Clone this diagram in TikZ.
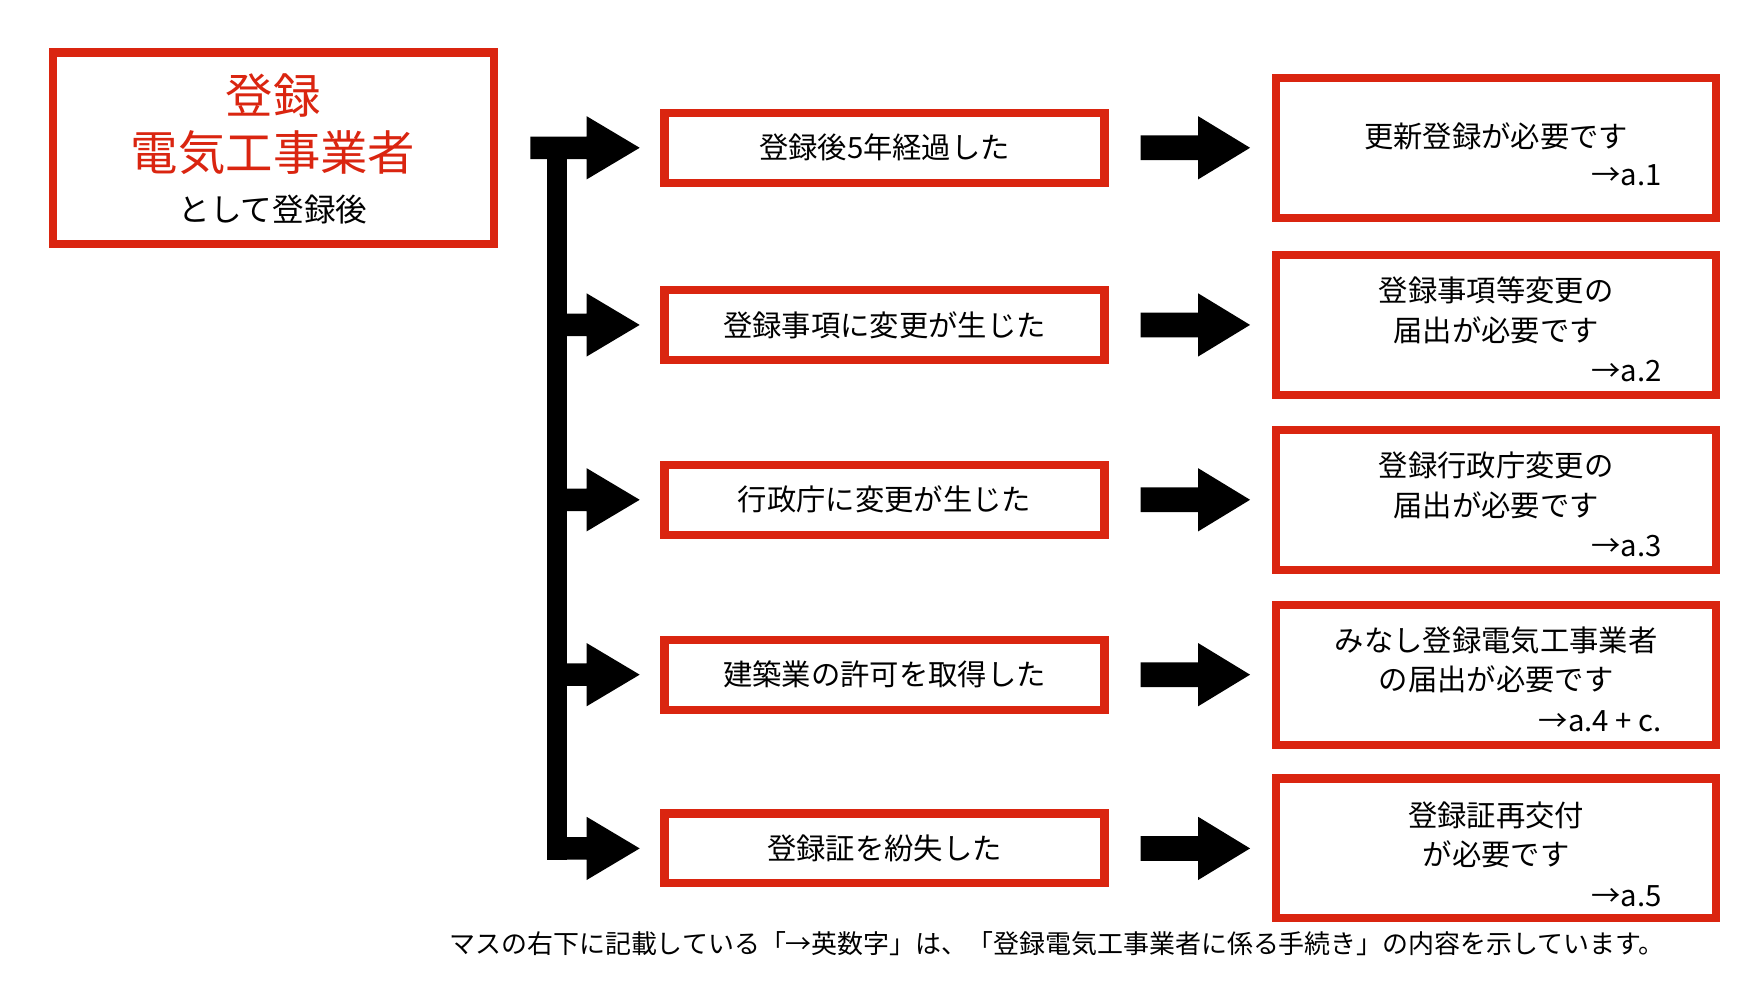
\documentclass[tikz,border=0pt]{standalone}
\usepackage{fontspec}
\setmainfont{Noto Sans CJK JP}
\definecolor{rd}{HTML}{DA2510}
\newcommand{\fatarr}[5]{% x0 x1 x2 y shafthalf
  \fill (#1,#4-#5) -- (#2,#4-#5) -- (#2,#4-28) -- (#3,#4) -- (#2,#4+28) -- (#2,#4+#5) -- (#1,#4+#5) -- cycle;}
\begin{document}
\begin{tikzpicture}[x=0.5pt,y=-0.5pt,
  rbox/.style={draw=rd,line width=3.6pt,fill=white,inner sep=0pt},
  mtxt/.style={font=\fontsize{13}{16}\selectfont},
  rtxt/.style={font=\fontsize{13}{17.5}\selectfont,align=center}]
\useasboundingbox (0,0) rectangle (1560,888);
% top-left box
\node[rbox,minimum width=391pt*0.5,minimum height=170pt*0.5] (start) at (242.5,131.5) {};
\node[text=rd,font=\fontsize{21}{25}\selectfont] (t1) at (242,85) {登録};
\node[text=rd,font=\fontsize{21}{25}\selectfont] (t2) at (242,135) {電気工事業者};
\node[font=\fontsize{14}{16}\selectfont] (t3) at (242,186) {として登録後};
% bar
\fill (485,131) rectangle (503,762);
\fatarr{470}{520}{567}{131}{10}
\foreach \y in {288,443,598}{\fatarr{500}{520}{567}{\y}{10}}
\fatarr{485}{520}{567}{752}{10}
% middle boxes
\foreach \y/\t/\n in {131/登録後5年経過した/m1,288/登録事項に変更が生じた/m2,443/行政庁に変更が生じた/m3,598/建築業の許可を取得した/m4,752/登録証を紛失した/m5}{
  \node[rbox,minimum width=195pt,minimum height=31pt,mtxt] (\n) at (784,\y) {\t};
  \fatarr{1011}{1062}{1108}{\y}{11}
}
% right boxes
\foreach \y/\n in {131/r1,288/r2,443/r3,598/r4,752/r5}{
  \node[rbox,minimum width=195pt,minimum height=62pt] (\n) at (1326,\y) {};
}
\node[rtxt] at (1326,121) {更新登録が必要です};
\node[rtxt,anchor=east] at (1480,155) {→a.1};
\node[rtxt] at (1326,275) {登録事項等変更の\\届出が必要です};
\node[rtxt,anchor=east] at (1480,329) {→a.2};
\node[rtxt] at (1326,430) {登録行政庁変更の\\届出が必要です};
\node[rtxt,anchor=east] at (1480,484) {→a.3};
\node[rtxt] at (1326,585) {みなし登録電気工事業者\\の届出が必要です};
\node[rtxt,anchor=east] at (1480,639) {→a.4 + c.};
\node[rtxt] at (1326,740) {登録証再交付\\が必要です};
\node[rtxt,anchor=east] at (1480,794) {→a.5};
\node[font=\fontsize{11.5}{14}\selectfont] (note) at (937,836) {マスの右下に記載している「→英数字」は、「登録電気工事業者に係る手続き」の内容を示しています。};
\end{tikzpicture}
\end{document}
